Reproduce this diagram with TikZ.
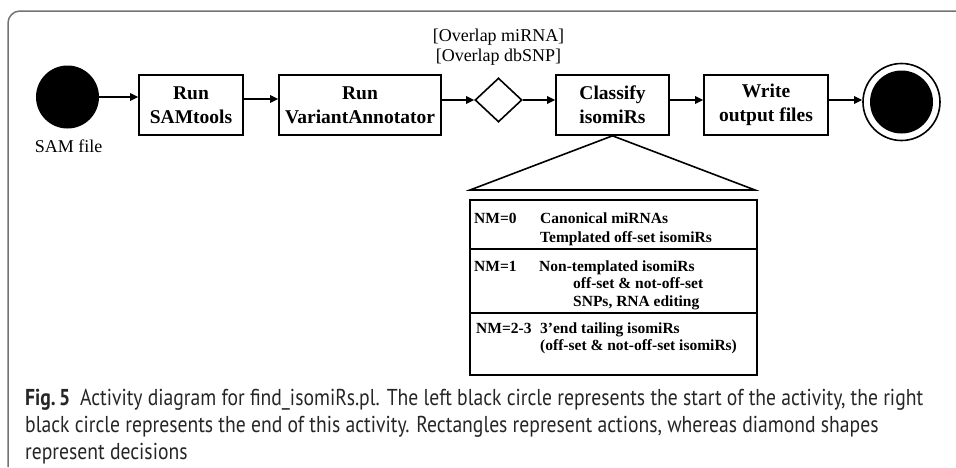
\documentclass[tikz,border=0pt]{standalone}
\usepackage{fontspec}
\setmainfont{Liberation Serif}
\newfontfamily\capfont{PT Sans}
\usetikzlibrary{shapes.geometric,arrows.meta}
\newlength\capw
\newcommand\capone{\textbf{Fig.\,5}\hspace{0.5em}Activity diagram for find\_isomiRs.pl. The left black circle represents the start of the activity, the right}
\tikzset{
  act/.style={draw, line width=1.6pt, align=center, font=\fontsize{19.5}{24}\selectfont\bfseries, inner sep=0pt},
  flow/.style={line width=1.6pt, -{Triangle[length=8pt,width=7.5pt]}},
  plain/.style={line width=1.6pt},
  cell/.style={anchor=base west, inner sep=0pt, font=\fontsize{15.5}{17.5}\selectfont\bfseries},
  capline/.style={anchor=base west, inner sep=0pt, text=black!85, font=\capfont\fontsize{23}{27}\selectfont},
  guard/.style={align=center, inner sep=0pt, font=\fontsize{18}{18}\selectfont}
}
\begin{document}
\settowidth{\capw}{\capfont\fontsize{23}{27}\selectfont\capone}
\pgfmathsetmacro{\capsx}{898/(\capw/1pt)}
\begin{tikzpicture}[x=1pt, y=-1pt]
\useasboundingbox (0,0) rectangle (956,467);

% outer frame of the figure
\draw[line width=1.5pt, black!55, rounded corners=12pt] (8,467) -- (8,11) -- (956,11);

% start node and its label
\node[circle, fill=black, minimum size=63pt, inner sep=0pt] (start) at (67.5,97) {};
\node[font=\fontsize{18}{18}\selectfont, inner sep=0pt] (samlbl) at (68.5,146) {SAM file};

% actions
\node[act, minimum width=104pt, minimum height=60pt] (samtools) at (191,105) {Run\\SAMtools};
\node[act, minimum width=162pt, minimum height=60pt] (variant) at (360,105) {Run\\VariantAnnotator};
\node[draw, diamond, line width=1.6pt, minimum width=47pt, minimum height=44pt, inner sep=0pt, aspect=1.07] (decide) at (498.5,100) {};
\node[act, minimum width=113pt, minimum height=60pt] (classify) at (612.5,105) {Classify\\isomiRs};
\node[act, minimum width=124pt, minimum height=60pt] (write) at (766,105) {Write\\output files};

% final node
\node[circle, draw, line width=1.6pt, minimum size=77pt, inner sep=0pt] (stop) at (901.5,102) {};
\node[circle, fill=black, minimum size=63pt, inner sep=0pt] (stopdot) at (stop) {};

% guard labels of the decision
\node[guard] (guard) at (498.5,47) {[Overlap miRNA]\\[2pt][Overlap dbSNP]};

% control flow
\draw[flow] (start.east) -- (start.east -| samtools.west);
\draw[flow] ([yshift=6pt]samtools.east) -- ([yshift=6pt]variant.west);
\draw[flow] ([yshift=5pt]variant.east) -- (decide.west);
\draw[flow] (decide.east) -- ([yshift=5pt]classify.west);
\draw[flow] ([yshift=5pt]classify.east) -- ([yshift=5pt]write.west);
\draw[flow] ([yshift=5pt]write.east) -- (stop.west |- 0,100);

% expansion of the classification step
\coordinate (tl) at (470,190);
\coordinate (tr) at (755,190);
\draw[plain, line join=miter] (classify.south) -- (tl) -- (tr) -- cycle;

\node[draw, line width=1.6pt, minimum width=287pt, minimum height=175pt, inner sep=0pt] (table) at (613.5,287.5) {};
\coordinate (d1) at (470,249);
\coordinate (d2) at (470,313);
\draw[plain] (d1) -- (d1 -| table.east);
\draw[plain] (d2) -- (d2 -| table.east);

\node[cell] (r1a) at (474,223) {NM=0};
\node[cell] (r1b) at (540,223) {Canonical miRNAs};
\node[cell] (r1c) at (540,242) {Templated off-set isomiRs};
\node[cell] (r2a) at (474,271) {NM=1};
\node[cell] (r2b) at (539,271) {Non-templated isomiRs};
\node[cell] (r2c) at (573,288) {off-set \& not-off-set};
\node[cell] (r2d) at (573,306) {SNPs, RNA editing};
\node[cell] (r3a) at (476,333) {NM=2-3};
\node[cell] (r3b) at (540,333) {3’end tailing isomiRs};
\node[cell] (r3c) at (540,350) {(off-set \& not-off-set isomiRs)};

% caption, condensed to the column width
\node[capline] (cap1) at (25,405) {\scalebox{\capsx}[1]{\capone}};
\node[capline] (cap2) at (25,432) {\scalebox{\capsx}[1]{black circle represents the end of this activity. Rectangles represent actions, whereas diamond shapes}};
\node[capline] (cap3) at (25,459) {\scalebox{\capsx}[1]{represent decisions}};
\end{tikzpicture}
\end{document}
